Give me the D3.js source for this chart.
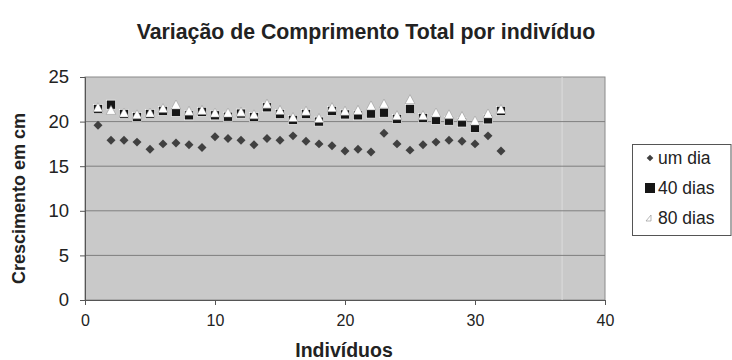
<!DOCTYPE html>
<html>
<head>
<meta charset="utf-8">
<script src="https://cdn.jsdelivr.net/npm/d3@7"></script>
<style>
	body { margin: 0; background: #fff; }
	svg text { font-family: 'Liberation Sans', Arial, sans-serif; }
</style>
</head>
<body>
<div id="chart"></div>
<script>
// dados
const individuos = d3.range(1, 33);
const umDia = [19.6, 17.9, 17.9, 17.7, 16.9, 17.5, 17.6, 17.4, 17.1, 18.3, 18.1, 17.9, 17.4, 18.1, 17.9, 18.4,
	17.8, 17.5, 17.3, 16.7, 16.9, 16.6, 18.7, 17.5, 16.8, 17.4, 17.7, 17.9, 17.8, 17.5, 18.4, 16.7];
const dias40 = [21.4, 21.9, 20.85, 20.5, 20.85, 21.2, 21.1, 20.7, 21.1, 20.7, 20.55, 20.9, 20.5, 21.6, 20.85, 20.2,
	20.85, 20.0, 21.2, 20.8, 20.7, 20.9, 21.0, 20.3, 21.4, 20.4, 20.2, 20.1, 19.9, 19.3, 20.25, 21.2];
const dias80 = [21.5, 21.2, 20.9, 20.7, 20.9, 21.4, 21.8, 21.1, 21.2, 20.9, 20.9, 21.0, 20.7, 21.9, 21.2, 20.4,
	21.1, 20.3, 21.5, 21.1, 21.2, 21.7, 21.9, 20.6, 22.4, 20.6, 20.9, 20.7, 20.5, 20.0, 20.8, 21.3];
const xTicks = [0, 10, 20, 30, 40];
const yTicks = [0, 5, 10, 15, 20, 25];
const seriesNames = ['um dia', '40 dias', '80 dias'];

const width = 732;
const height = 360;
const plot = { left: 85, top: 77, right: 605, bottom: 300 };

const svg = d3.select('#chart')
	.append('svg')
		.attr('width', width)
		.attr('height', height);

const xScale = d3.scaleLinear().domain([0, 40]).range([plot.left, plot.right]);
const yScale = d3.scaleLinear().domain([0, 25]).range([plot.bottom, plot.top]);

// fundo da área de plotagem
svg.append('rect')
	.attr('x', plot.left)
	.attr('y', plot.top)
	.attr('width', plot.right - plot.left)
	.attr('height', plot.bottom - plot.top)
	.attr('fill', '#c9c9c9')
	.attr('stroke', '#8a8a8a')
	.attr('stroke-width', 1);

// linha clara que aparece no original
svg.append('line')
	.attr('x1', xScale(36.7)).attr('x2', xScale(36.7))
	.attr('y1', plot.top).attr('y2', plot.bottom)
	.attr('stroke', '#dcdcdc')
	.attr('stroke-width', 1);

// grade horizontal
svg.append('g')
	.selectAll('line')
	.data(yTicks.filter(d => d > 0 && d < 25))
	.enter()
		.append('line')
			.attr('x1', plot.left)
			.attr('x2', plot.right)
			.attr('y1', d => yScale(d))
			.attr('y2', d => yScale(d))
			.attr('stroke', '#7f7f7f')
			.attr('stroke-width', 1);

// eixos
const yAxis = svg.append('g')
	.attr('transform', `translate(${plot.left},0)`)
	.call(d3.axisLeft(yScale).tickValues(yTicks).tickSize(5).tickPadding(11));
yAxis.select('.domain').attr('stroke', '#555');
yAxis.selectAll('.tick line').attr('stroke', '#555');
yAxis.selectAll('.tick text')
	.attr('font-size', 18.5)
	.attr('fill', '#222')
	.attr('font-family', "'Liberation Sans', Arial, sans-serif");

const xAxis = svg.append('g')
	.attr('transform', `translate(0,${plot.bottom})`)
	.call(d3.axisBottom(xScale).tickValues(xTicks).tickSize(5).tickPadding(10));
xAxis.select('.domain').attr('stroke', '#555');
xAxis.selectAll('.tick line').attr('stroke', '#555');
xAxis.selectAll('.tick text')
	.attr('font-size', 16)
	.attr('fill', '#222')
	.attr('font-family', "'Liberation Sans', Arial, sans-serif");

// marcadores
const diamond = d3.symbol().type(d3.symbolSquare).size(40);
const triangle = 'M0,-5.5L4.8,3.5L-4.8,3.5Z';

const body = svg.append('g');

body.append('g')
	.selectAll('rect')
	.data(individuos.map((d, i) => ({ x: d, y: dias40[i] })))
	.enter()
		.append('rect')
			.attr('x', d => xScale(d.x) - 4.5)
			.attr('y', d => yScale(d.y) - 4.5)
			.attr('width', 9)
			.attr('height', 9)
			.attr('fill', '#161616')
			.attr('stroke', '#fff')
			.attr('stroke-width', 0.6);

body.append('g')
	.selectAll('path')
	.data(individuos.map((d, i) => ({ x: d, y: dias80[i] })))
	.enter()
		.append('path')
			.attr('d', triangle)
			.attr('transform', d => `translate(${xScale(d.x)},${yScale(d.y)})`)
			.attr('fill', '#fff')
			.attr('stroke', '#8a8a8a')
			.attr('stroke-width', 0.5);

body.append('g')
	.selectAll('path')
	.data(individuos.map((d, i) => ({ x: d, y: umDia[i] })))
	.enter()
		.append('path')
			.attr('d', diamond)
			.attr('transform', d => `translate(${xScale(d.x)},${yScale(d.y)}) rotate(45)`)
			.attr('fill', '#404040');

// títulos
svg.append('text')
	.attr('x', 366)
	.attr('y', 39)
	.attr('text-anchor', 'middle')
	.attr('font-size', 21.3)
	.attr('font-weight', 'bold')
	.attr('fill', '#222')
	.text('Variação de Comprimento Total por indivíduo');

svg.append('text')
	.attr('transform', `translate(25,${(plot.top + plot.bottom) / 2 + 10}) rotate(-90)`)
	.attr('text-anchor', 'middle')
	.attr('font-size', 18)
	.attr('font-weight', 'bold')
	.attr('fill', '#222')
	.text('Crescimento em cm');

svg.append('text')
	.attr('x', 344)
	.attr('y', 357)
	.attr('text-anchor', 'middle')
	.attr('font-size', 19.5)
	.attr('font-weight', 'bold')
	.attr('fill', '#222')
	.text('Indivíduos');

// legenda
const legend = svg.append('g').attr('transform', 'translate(632,144)');
legend.append('rect')
	.attr('x', 0.5).attr('y', 0.5)
	.attr('width', 98.5).attr('height', 91)
	.attr('fill', '#fff')
	.attr('stroke', '#555')
	.attr('stroke-width', 1);

const items = legend.selectAll('.item')
	.data(seriesNames)
	.enter()
		.append('g')
			.attr('class', 'item')
			.attr('transform', (d, i) => `translate(18,${14 + i * 30})`);

items.append('text')
	.attr('x', 8)
	.attr('y', 6)
	.attr('font-size', 17.5)
	.attr('fill', '#222')
	.text(d => d);

items.filter((d, i) => i === 0).append('path')
	.attr('d', d3.symbol().type(d3.symbolSquare).size(22))
	.attr('transform', 'rotate(45)')
	.attr('fill', '#404040');
items.filter((d, i) => i === 1).append('rect')
	.attr('x', -5).attr('y', -5).attr('width', 10).attr('height', 10)
	.attr('fill', '#161616');
items.filter((d, i) => i === 2).append('path')
	.attr('d', 'M1,-3L1,3L-4,3Z')
	.attr('fill', '#fff')
	.attr('stroke', '#999')
	.attr('stroke-width', 0.7);
</script>
</body>
</html>
